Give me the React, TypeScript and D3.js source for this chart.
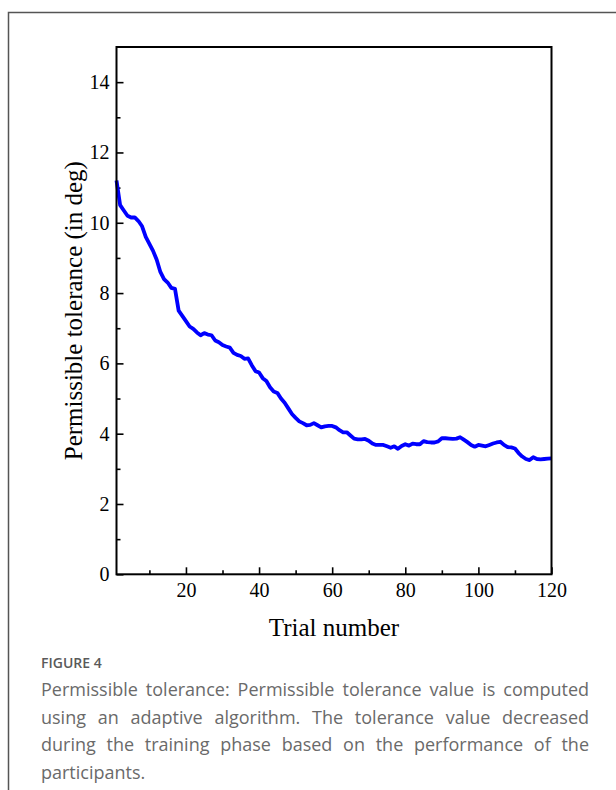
import React, { useEffect, useRef } from 'react';
import * as d3 from 'd3';

// permissible tolerance (deg) for trials 1..120
const tolerance = [
  11.2, 10.5, 10.35, 10.2, 10.15, 10.15, 10.05, 9.9, 9.6, 9.4,
  9.2, 8.95, 8.6, 8.4, 8.3, 8.15, 8.12, 7.5, 7.35, 7.2,
  7.05, 6.98, 6.88, 6.8, 6.86, 6.82, 6.8, 6.65, 6.6, 6.52,
  6.48, 6.45, 6.3, 6.24, 6.21, 6.13, 6.14, 5.95, 5.78, 5.74,
  5.58, 5.5, 5.32, 5.2, 5.16, 5.0, 4.88, 4.72, 4.56, 4.45,
  4.35, 4.3, 4.24, 4.25, 4.3, 4.24, 4.18, 4.21, 4.22, 4.22,
  4.18, 4.1, 4.04, 4.04, 3.95, 3.86, 3.84, 3.84, 3.85, 3.8,
  3.72, 3.68, 3.68, 3.68, 3.64, 3.6, 3.64, 3.57, 3.65, 3.7,
  3.66, 3.72, 3.7, 3.7, 3.79, 3.76, 3.75, 3.75, 3.78, 3.87,
  3.87, 3.86, 3.85, 3.86, 3.9, 3.83, 3.76, 3.68, 3.63, 3.68,
  3.66, 3.64, 3.68, 3.72, 3.75, 3.77, 3.68, 3.62, 3.61, 3.58,
  3.45, 3.35, 3.28, 3.25, 3.33, 3.28, 3.27, 3.28, 3.29, 3.3
];
const trials = tolerance.map((_, i) => i + 1);

const xTicks = [20, 40, 60, 80, 100, 120];
const xMinorTicks = [10, 30, 50, 70, 90, 110];
const yTicks = [0, 2, 4, 6, 8, 10, 12, 14];
const yMinorTicks = [1, 3, 5, 7, 9, 11, 13];

const xTitle = 'Trial number';
const yTitle = 'Permissible tolerance (in deg)';
const figureLabel = 'FIGURE 4';
const captionLines = [
  'Permissible tolerance: Permissible tolerance value is computed',
  'using an adaptive algorithm. The tolerance value decreased',
  'during the training phase based on the performance of the',
  'participants.'
];

const WIDTH = 616;
const HEIGHT = 790;
const plot = { left: 116.5, right: 551.5, top: 47, bottom: 574.3 };
const serif = '"Liberation Serif", "Times New Roman", serif';
const sans = '"Open Sans", "Noto Sans", sans-serif';

function styleAxis(g) {
  g.select('.domain').remove();
  g.selectAll('line').attr('stroke', '#000').attr('stroke-width', 1.6);
  g.selectAll('text')
    .attr('fill', '#000')
    .attr('font-family', serif)
    .attr('font-size', 20);
}

function draw(node) {
  const svg = d3.select(node);
  svg.selectAll('*').remove();

  const x = d3.scaleLinear().domain([1, 120]).range([plot.left, plot.right]);
  const y = d3.scaleLinear().domain([0, 15]).range([plot.bottom, plot.top]);

  // card border (left + top)
  svg.append('path')
    .attr('d', `M${WIDTH},12.5H8.5V${HEIGHT}`)
    .attr('fill', 'none')
    .attr('stroke', '#555')
    .attr('stroke-width', 1.5);

  // minor ticks
  svg.append('g')
    .attr('transform', `translate(0,${plot.bottom})`)
    .call(d3.axisBottom(x).tickValues(xMinorTicks).tickSize(-4).tickFormat(() => ''))
    .call(styleAxis);
  svg.append('g')
    .attr('transform', `translate(${plot.left},0)`)
    .call(d3.axisLeft(y).tickValues(yMinorTicks).tickSize(-4).tickFormat(() => ''))
    .call(styleAxis);

  // major ticks
  svg.append('g')
    .attr('transform', `translate(0,${plot.bottom})`)
    .call(d3.axisBottom(x).tickValues(xTicks).tickSize(-7).tickPadding(9))
    .call(styleAxis);
  svg.append('g')
    .attr('transform', `translate(${plot.left},0)`)
    .call(d3.axisLeft(y).tickValues(yTicks).tickSize(-7).tickPadding(7))
    .call(styleAxis);

  // line
  const line = d3.line()
    .x((d, i) => x(trials[i]))
    .y(d => y(d))
    .curve(d3.curveLinear);
  svg.append('path')
    .datum(tolerance)
    .attr('d', line)
    .attr('fill', 'none')
    .attr('stroke', '#0000ff')
    .attr('stroke-width', 3.8)
    .attr('stroke-linejoin', 'round');

  // frame
  svg.append('rect')
    .attr('x', plot.left)
    .attr('y', plot.top)
    .attr('width', plot.right - plot.left)
    .attr('height', plot.bottom - plot.top)
    .attr('fill', 'none')
    .attr('stroke', '#000')
    .attr('stroke-width', 2);

  // axis titles
  svg.append('text')
    .attr('x', (plot.left + plot.right) / 2)
    .attr('y', 636)
    .attr('text-anchor', 'middle')
    .attr('font-family', serif)
    .attr('font-size', 25)
    .text(xTitle);
  svg.append('text')
    .attr('transform', `translate(82,${(plot.top + plot.bottom) / 2}) rotate(-90)`)
    .attr('text-anchor', 'middle')
    .attr('font-family', serif)
    .attr('font-size', 25)
    .text(yTitle);

  // caption
  svg.append('text')
    .attr('x', 41)
    .attr('y', 668)
    .attr('font-family', sans)
    .attr('font-size', 14)
    .attr('font-weight', 600)
    .attr('fill', '#5a5a5a')
    .text(figureLabel);

  const left = 41, right = 589;
  captionLines.forEach((ln, li) => {
    const baseY = 696 + li * 27.5;
    const words = ln.split(' ');
    const nodes = words.map(w => svg.append('text')
      .attr('y', baseY)
      .attr('font-family', sans)
      .attr('font-size', 18)
      .attr('fill', '#6a6a6a')
      .text(w));
    const widths = nodes.map(n => n.node().getComputedTextLength());
    const last = li === captionLines.length - 1;
    const gap = last ? 4.5 : (right - left - d3.sum(widths)) / (words.length - 1);
    let cx = left;
    nodes.forEach((n, i) => {
      n.attr('x', cx);
      cx += widths[i] + gap;
    });
  });
}

export default function App() {
  const ref = useRef(null);
  useEffect(() => {
    draw(ref.current);
  }, []);
  return (
    <svg
      ref={ref}
      width={WIDTH}
      height={HEIGHT}
      style={{ position: 'absolute', left: 0, top: 0, background: '#fff' }}
    />
  );
}
